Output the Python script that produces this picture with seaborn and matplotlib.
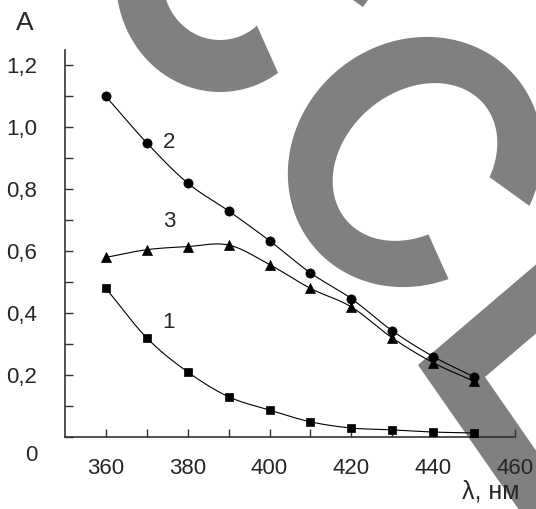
import numpy as np
import pandas as pd
import seaborn as sns
import matplotlib.pyplot as plt
from matplotlib.patches import Polygon
from matplotlib.transforms import ScaledTranslation

# absorbance spectra, curves 1-3
wavelength = [360, 370, 380, 390, 400, 410, 420, 430, 440, 450]
a1 = [0.48, 0.32, 0.21, 0.13, 0.087, 0.049, 0.029, 0.023, 0.016, 0.013]
a2 = [1.10, 0.95, 0.82, 0.73, 0.634, 0.53, 0.447, 0.343, 0.26, 0.194]
a3 = [0.58, 0.605, 0.615, 0.62, 0.557, 0.48, 0.42, 0.32, 0.24, 0.18]
x_ticks = [360, 380, 400, 420, 440, 460]
y_ticks = [0, 0.2, 0.4, 0.6, 0.8, 1.0, 1.2]
y_labels = ["0", "0,2", "0,4", "0,6", "0,8", "1,0", "1,2"]


def smooth(x, y, n=24):
    # catmull-rom, close to excel's smoothed line
    p = np.column_stack([x, y]).astype(float)
    p = np.vstack([2 * p[0] - p[1], p, 2 * p[-1] - p[-2]])
    t = np.linspace(0, 1, n, endpoint=False)[:, None]
    out = []
    for i in range(1, len(p) - 2):
        p0, p1, p2, p3 = p[i - 1], p[i], p[i + 1], p[i + 2]
        out.append(0.5 * (2 * p1 + (-p0 + p2) * t
                          + (2 * p0 - 5 * p1 + 4 * p2 - p3) * t ** 2
                          + (-p0 + 3 * p1 - 3 * p2 + p3) * t ** 3))
    out.append(p[-2][None])
    s = np.vstack(out)
    return s[:, 0], s[:, 1]


def ell_r(phi, a, b, rot):
    d = phi - rot
    return a * b / np.sqrt((b * np.cos(d)) ** 2 + (a * np.sin(d)) ** 2)


def ring(cx, cy, ao, bo, ai, bi, rot, o0, o1, i0, i1):
    ph_o = np.radians(np.linspace(o0, o1, 120))
    ph_i = np.radians(np.linspace(i0, i1, 120))
    r_o = ell_r(ph_o, ao, bo, np.radians(rot))
    r_i = ell_r(ph_i, ai, bi, np.radians(rot))
    xo, yo = cx + r_o * np.cos(ph_o), cy + r_o * np.sin(ph_o)
    xi, yi = cx + r_i * np.cos(ph_i), cy + r_i * np.sin(ph_i)
    return np.column_stack([np.r_[xo, xi], np.r_[yo, yi]])


sns.set_style("ticks")
plt.rcParams["font.family"] = ["Liberation Sans", "DejaVu Sans"]

fig = plt.figure(figsize=(5.36, 5.09), dpi=100)

# grey watermark behind the chart (pixel coords)
bg = fig.add_axes([0, 0, 1, 1])
bg.set_xlim(0, 536)
bg.set_ylim(509, 0)
bg.axis("off")
grey = "#808080"
bg.add_patch(Polygon(ring(220, -20, 104, 112, 57, 60, 0, 58, 210, 210, 51), color=grey, lw=0))
bg.add_patch(Polygon(ring(415, 162, 132, 120, 90, 70, -40, 74, 381, 371.5, 79.5), color=grey, lw=0))
bg.add_patch(Polygon([(560, 244), (418, 365), (533, 530), (591, 530), (485, 377), (560, 313)],
                     color=grey, lw=0))
bg.add_patch(Polygon([(353, 0), (368, 0), (363, 7)], color=grey, lw=0))

ax = fig.add_axes([65 / 536, 72 / 509, 450 / 536, 387 / 509])
ax.patch.set_alpha(0)

for vals, mk, s in [(a1, "s", 34), (a2, "o", 44), (a3, "^", 52)]:
    xs, ys = smooth(wavelength, vals)
    sns.lineplot(x=xs, y=ys, color="black", lw=0.8, sort=False, estimator=None, ax=ax)
    sns.scatterplot(x=wavelength, y=vals, marker=mk, s=s, color="black",
                    edgecolor="black", linewidth=0.5, zorder=3, ax=ax)

ax.set_xlim(350, 460)
ax.set_ylim(0, 1.25)
ax.set_xticks(x_ticks)
ax.set_xticks([370, 390, 410, 430, 450], minor=True)
ax.set_yticks(y_ticks)
ax.set_yticklabels(y_labels)
ax.set_yticks([0.1, 0.3, 0.5, 0.7, 0.9, 1.1], minor=True)
ax.tick_params(which="both", direction="in", length=5.8, width=1, color="#333333")
ax.tick_params(axis="x", labelsize=16, pad=15)
ax.tick_params(axis="y", labelsize=16, pad=20)
sns.despine(ax=ax)
for sp in ["left", "bottom"]:
    ax.spines[sp].set_color("#333333")
    ax.spines[sp].set_linewidth(1.2)

# the zero label sits lower than its tick
lab0 = ax.get_yticklabels()[0]
lab0.set_transform(lab0.get_transform() + ScaledTranslation(0, -0.16, fig.dpi_scale_trans))

ax.text(375.4, 0.951, "2", fontsize=16, ha="center", va="center")
ax.text(375.4, 0.696, "3", fontsize=16, ha="center", va="center")
ax.text(375.4, 0.369, "1", fontsize=16, ha="center", va="center")

fig.text(25 / 536, 1 - 23 / 509, "A", fontsize=19, ha="center", va="center")
fig.text(491 / 536, 1 - 492 / 509, "λ, нм", fontsize=18, ha="center", va="center")

fig.savefig("out.png", dpi=100)
